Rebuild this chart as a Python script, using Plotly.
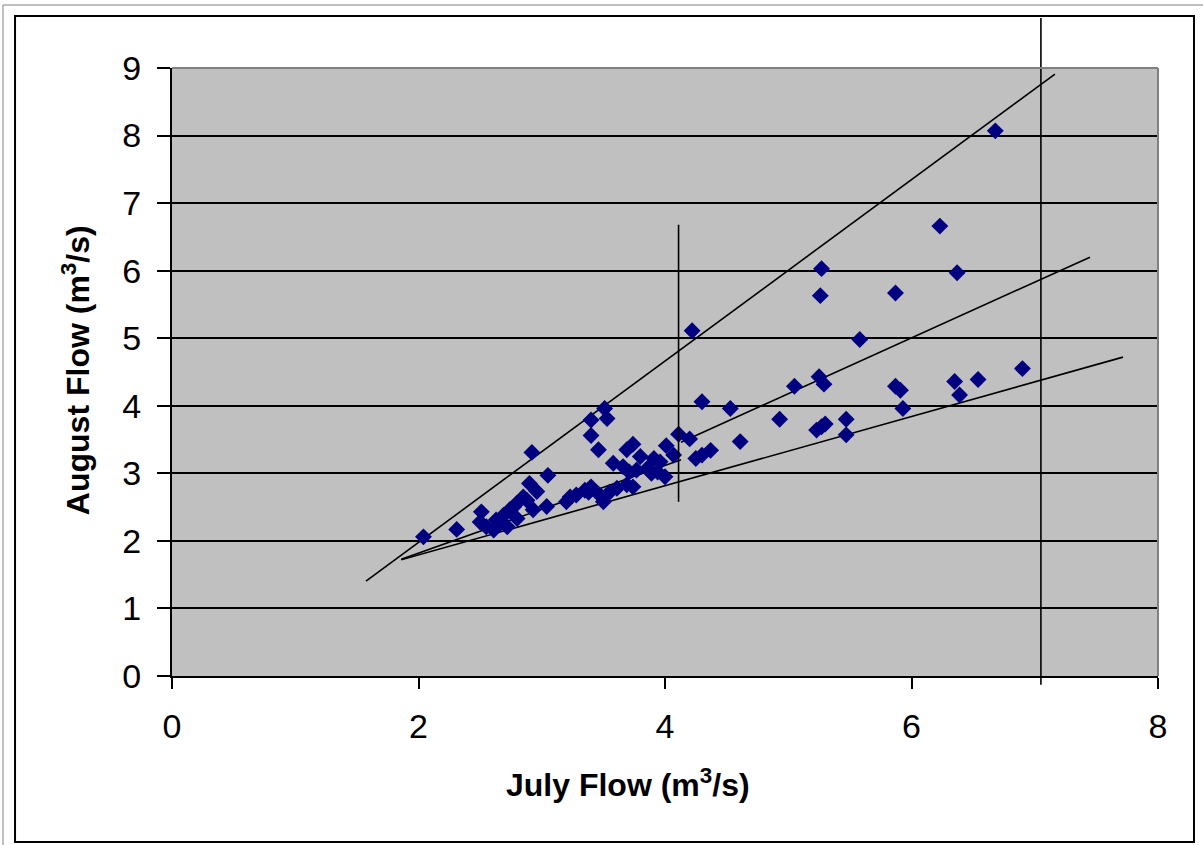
import plotly.graph_objects as go

# ---- data ----
july = [2.04, 2.31, 2.50, 2.51, 2.55, 2.61, 2.63, 2.66, 2.69, 2.72, 2.74, 2.77, 2.80, 2.80,
        2.85, 2.88, 2.90, 2.92, 2.93, 2.96, 3.04, 3.05, 3.20, 3.23, 3.28, 3.35, 3.38, 3.40,
        3.40, 3.40, 3.46, 3.47, 3.50, 3.51, 3.53, 3.55, 3.58, 3.61, 3.66, 3.69, 3.69, 3.71,
        3.74, 3.74, 3.77, 3.80, 3.86, 3.89, 3.91, 3.94, 3.96, 4.00, 4.01, 4.07, 4.11, 4.20,
        4.22, 4.25, 4.30, 4.30, 4.37, 4.53, 4.61, 4.93, 5.05, 5.23, 5.25, 5.26, 5.27, 5.27,
        5.29, 5.30, 5.47, 5.47, 5.58, 5.87, 5.87, 5.91, 5.93, 6.23, 6.35, 6.37, 6.39, 6.54,
        6.68, 6.90]
august = [2.06, 2.17, 2.28, 2.43, 2.21, 2.16, 2.31, 2.26, 2.38, 2.21, 2.46, 2.50, 2.56, 2.33,
          2.65, 2.60, 2.85, 3.31, 2.46, 2.73, 2.51, 2.97, 2.58, 2.65, 2.68, 2.75, 2.72, 2.80,
          3.56, 3.79, 3.35, 2.68, 2.58, 3.96, 3.81, 2.72, 3.15, 2.78, 3.10, 2.83, 3.35, 3.02,
          3.43, 2.80, 3.05, 3.25, 3.08, 3.00, 3.22, 3.02, 3.17, 2.95, 3.41, 3.27, 3.58, 3.51,
          5.11, 3.22, 3.27, 4.06, 3.34, 3.96, 3.47, 3.80, 4.29, 3.64, 4.43, 5.63, 3.69, 6.03,
          4.32, 3.73, 3.80, 3.57, 4.98, 5.67, 4.29, 4.23, 3.96, 6.66, 4.36, 5.97, 4.16, 4.39,
          8.07, 4.55]

# fitted / envelope lines (x pair, y pair)
upper_x, upper_y = [1.574, 7.164], [1.406, 8.91]
lower_x, lower_y = [1.86, 7.716], [1.72, 4.72]
seg1_x, seg1_y = [1.86, 4.13], [1.73, 3.20]
seg2_x, seg2_y = [4.13, 7.448], [3.46, 6.20]

# vertical marker lines (x, y start, y end)
vline_a = (4.11, 2.58, 6.68)
vline_b = (7.05, -0.13, 9.74)

x_ticks = [0, 2, 4, 6, 8]
y_ticks = list(range(0, 10))
X_MAX, Y_MAX = 8, 9

x_title = "<b>July Flow (m<sup>3</sup>/s)</b>"
y_title = "<b>August Flow (m<sup>3</sup>/s)</b>"

fig = go.Figure()

line_style = dict(color="black", width=1.6)
for xs, ys in [(upper_x, upper_y), (lower_x, lower_y), (seg1_x, seg1_y), (seg2_x, seg2_y)]:
    fig.add_trace(go.Scatter(x=xs, y=ys, mode="lines", line=line_style,
                             showlegend=False, hoverinfo="skip"))

fig.add_trace(go.Scatter(x=july, y=august, mode="markers",
                         marker=dict(symbol="diamond", size=13, color="#000080",
                                     line=dict(width=0)),
                         showlegend=False))

shapes = []
# vertical lines (y converted to paper fraction of y range)
for vx, vy0, vy1 in (vline_a, vline_b):
    shapes.append(dict(type="line", xref="x", yref="paper", x0=vx, x1=vx,
                       y0=vy0 / Y_MAX, y1=vy1 / Y_MAX, line=dict(color="black", width=1.6)))
# plot area top & right borders in gray
shapes.append(dict(type="line", xref="paper", yref="paper", x0=0, x1=1, y0=1, y1=1,
                   line=dict(color="#808080", width=2), layer="above"))
shapes.append(dict(type="line", xref="paper", yref="paper", x0=1, x1=1, y0=0, y1=1,
                   line=dict(color="#808080", width=2), layer="above"))
# chart frames
shapes.append(dict(type="rect", xref="paper", yref="paper", x0=-0.1714, x1=1.06,
                   y0=-0.30, y1=1.1036, line=dict(color="#808080", width=1)))
shapes.append(dict(type="rect", xref="paper", yref="paper", x0=-0.1592, x1=1.0365,
                   y0=-0.2730, y1=1.0855, line=dict(color="black", width=2)))

annotations = [
    dict(text=x_title, xref="paper", yref="paper", x=0.4625, y=-0.176,
         xanchor="center", yanchor="middle", showarrow=False, font=dict(size=32)),
    dict(text=y_title, xref="paper", yref="paper", x=-0.0974, y=0.503, textangle=-90,
         xanchor="center", yanchor="middle", showarrow=False, font=dict(size=32)),
]

font_family = "Liberation Sans, Arial, sans-serif"
fig.update_layout(
    width=1203, height=845,
    margin=dict(l=172, r=45, t=68, b=169),
    paper_bgcolor="white",
    plot_bgcolor="#C0C0C0",
    font=dict(family=font_family, color="black"),
    shapes=shapes,
    annotations=annotations,
    xaxis=dict(range=[0, X_MAX], tickvals=x_ticks, ticktext=[str(v) for v in x_ticks],
               showgrid=False, zeroline=False, showline=True, linecolor="black", linewidth=2,
               ticks="outside", ticklen=11, tickwidth=2, tickcolor="black",
               tickfont=dict(size=34), ticklabelstandoff=8,
               automargin=False, fixedrange=True),
    yaxis=dict(range=[0, Y_MAX], tickvals=y_ticks, ticktext=[str(v) for v in y_ticks],
               showgrid=True, gridcolor="black", gridwidth=1.5, zeroline=False,
               showline=True, linecolor="black", linewidth=2,
               ticks="outside", ticklen=13, tickwidth=2, tickcolor="black",
               tickfont=dict(size=34), ticklabelstandoff=9,
               automargin=False, fixedrange=True),
)

fig.write_html("out.html")
